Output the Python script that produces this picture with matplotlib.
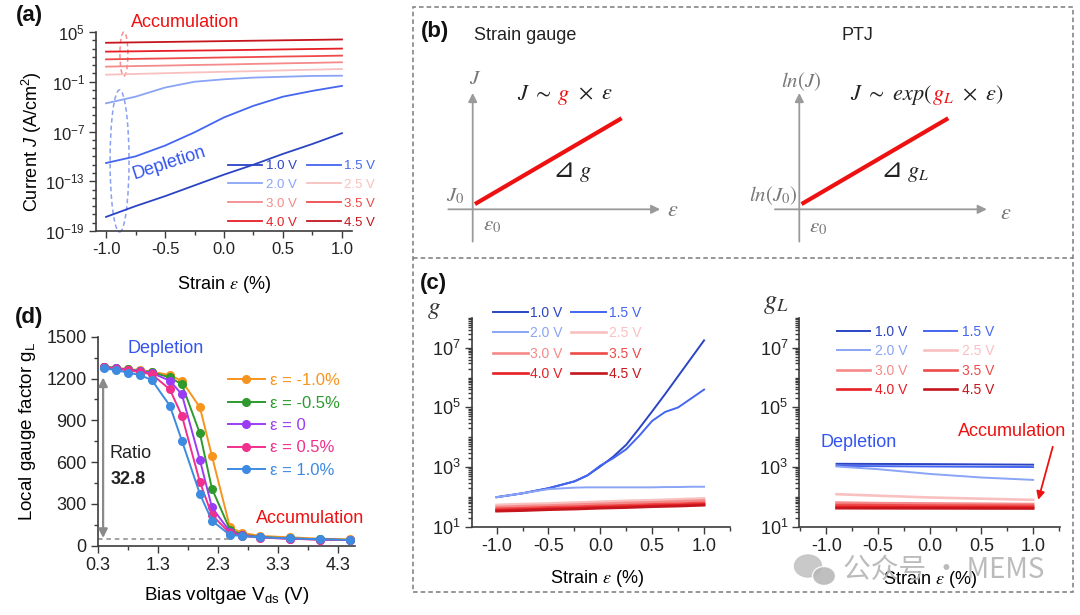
import numpy as np
import matplotlib
matplotlib.use('Agg')
import matplotlib.pyplot as plt
import matplotlib.ticker as ticker
import matplotlib.transforms as mtransforms
from matplotlib.patches import Rectangle, Ellipse
from matplotlib.lines import Line2D

plt.rcParams['font.family'] = ['Liberation Sans', 'DejaVu Sans']
plt.rcParams['mathtext.fontset'] = 'custom'
plt.rcParams['mathtext.rm'] = 'Liberation Sans'
plt.rcParams['mathtext.it'] = 'Liberation Sans:italic'
plt.rcParams['mathtext.bf'] = 'Liberation Sans:bold'
plt.rcParams['mathtext.default'] = 'it'

W, H = 1080, 615

# ---------------- data ----------------
volt_labels = ['1.0 V', '1.5 V', '2.0 V', '2.5 V', '3.0 V', '3.5 V', '4.0 V', '4.5 V']
volt_colors = ['#2b44c4', '#4466f0', '#8aa4f6', '#f9c0c0', '#f58a8a', '#ef4a4a', '#e61e25', '#c4161c']

strain = [-1.0, -0.75, -0.5, -0.25, 0.0, 0.25, 0.5, 0.75, 1.0]

# (a) log10 of current density J (A/cm2)
logJ = [
    [-17.3, -16.0, -14.8, -13.5, -12.2, -11.0, -9.7, -8.5, -7.2],
    [-10.8, -10.0, -8.7, -7.1, -5.3, -3.9, -2.8, -2.1, -1.5],
    [-3.6, -2.8, -1.7, -1.0, -0.7, -0.5, -0.4, -0.3, -0.27],
    [-0.15, -0.06, 0.03, 0.12, 0.2, 0.28, 0.37, 0.45, 0.54],
    [0.82, 0.89, 0.95, 1.02, 1.08, 1.15, 1.22, 1.28, 1.35],
    [1.7, 1.76, 1.81, 1.87, 1.93, 1.98, 2.04, 2.09, 2.15],
    [2.63, 2.67, 2.72, 2.76, 2.8, 2.85, 2.9, 2.95, 3.0],
    [3.7, 3.75, 3.8, 3.85, 3.9, 3.95, 4.0, 4.05, 4.1],
]

# (c) log10 of gauge factor g
strain_fine = [-1.0, -0.75, -0.5, -0.25, -0.125, 0.0, 0.125, 0.25, 0.375, 0.5, 0.625, 0.75, 0.875, 1.0]
log_g_blue = [
    [1.99, 2.12, 2.29, 2.52, 2.72, 3.02, 3.35, 3.75, 4.3, 4.87, 5.45, 6.05, 6.65, 7.25],
    [1.99, 2.12, 2.29, 2.52, 2.72, 3.05, 3.3, 3.6, 4.05, 4.55, 4.85, 5.0, 5.3, 5.6],
    [1.99, 2.12, 2.26, 2.31, 2.32, 2.32, 2.32, 2.32, 2.32, 2.32, 2.33, 2.33, 2.34, 2.34],
]
log_g_red = [
    [1.73, 1.76, 1.78, 1.81, 1.84, 1.87, 1.89, 1.92, 1.95],
    [1.66, 1.69, 1.71, 1.74, 1.77, 1.80, 1.82, 1.85, 1.88],
    [1.60, 1.62, 1.65, 1.67, 1.70, 1.72, 1.75, 1.77, 1.80],
    [1.55, 1.57, 1.60, 1.62, 1.65, 1.67, 1.70, 1.72, 1.75],
    [1.52, 1.54, 1.57, 1.59, 1.62, 1.64, 1.67, 1.69, 1.72],
]

# (c) log10 of local gauge factor gL
strain_gl = [-0.9, -0.5, 0.0, 0.5, 1.0]
log_gl = [
    [3.11, 3.105, 3.1, 3.09, 3.08],
    [3.04, 3.03, 3.02, 3.01, 3.0],
    [3.02, 2.93, 2.77, 2.65, 2.57],
    [2.09, 2.04, 1.98, 1.94, 1.9],
    [1.81, 1.79, 1.78, 1.77, 1.76],
    [1.73, 1.72, 1.71, 1.705, 1.7],
    [1.66, 1.655, 1.65, 1.645, 1.64],
    [1.62, 1.617, 1.615, 1.612, 1.61],
]

# (d) local gauge factor vs bias
vds = [0.4, 0.6, 0.8, 1.0, 1.2, 1.5, 1.7, 2.0, 2.2, 2.5, 2.7, 3.0, 3.5, 4.0, 4.5]
gl_curves = [
    [1285, 1278, 1266, 1261, 1249, 1225, 1182, 993, 644, 132, 93, 70, 60, 50, 46],
    [1285, 1275, 1265, 1255, 1245, 1208, 1158, 806, 410, 115, 80, 62, 52, 45, 40],
    [1282, 1272, 1262, 1252, 1240, 1184, 1086, 615, 275, 100, 75, 60, 50, 44, 40],
    [1280, 1270, 1260, 1245, 1230, 1122, 933, 457, 220, 90, 70, 58, 50, 44, 40],
    [1273, 1261, 1242, 1225, 1189, 1005, 754, 371, 180, 77, 70, 60, 53, 46, 41],
]
gl_labels = ['ε = -1.0%', 'ε = -0.5%', 'ε = 0', 'ε = 0.5%', 'ε = 1.0%']
gl_colors = ['#f7941d', '#2e9a2e', '#9b3cf5', '#f0308c', '#3d8be0']

# schematic (b): arbitrary units
eps_sketch = [0.015, 0.993]
resp_sketch = [0.035, 0.607]

BLUE_TXT = '#3355ee'
RED_TXT = '#ee1111'
AX_COL = '#3c3c3c'


fig = plt.figure(figsize=(W / 100, H / 100), dpi=100)
fig.patch.set_facecolor('white')


def fx(px):
    return px / W


def fy(py):
    return 1 - py / H


def pax(x0, y0, x1, y1):
    return fig.add_axes([x0 / W, 1 - y1 / H, (x1 - x0) / W, (y1 - y0) / H])


def style(ax, size=12):
    for s in ['top', 'right']:
        ax.spines[s].set_visible(False)
    for s in ['left', 'bottom']:
        ax.spines[s].set_color(AX_COL)
        ax.spines[s].set_linewidth(1.2)
    ax.tick_params(which='both', direction='out', color=AX_COL, width=1.0, labelcolor='#222222')
    ax.tick_params(which='major', length=5, labelsize=size, pad=3)
    ax.tick_params(which='minor', length=3)
    ax.patch.set_alpha(0)


def log_fmt(v, pos):
    return r'$\mathregular{10^{%d}}$' % int(round(np.log10(v)))


def reorder(handles):
    # legend fills column-wise; put 1.0,2.0,3.0,4.0 in first column
    return [handles[i] for i in [0, 2, 4, 6, 1, 3, 5, 7]]


# ---------------- (a) ----------------
ax_a = pax(96, 32, 352, 231)
style(ax_a, 12)
lines_a = []
for lj, lab, col in zip(logJ, volt_labels, volt_colors):
    ln, = ax_a.plot(strain, 10.0 ** np.array(lj), color=col, lw=1.3, label=lab)
    lines_a.append(ln)
ax_a.set_yscale('log')
ax_a.set_ylim(1e-19, 1e5)
ax_a.set_xlim(-1.085, 1.085)
ax_a.yaxis.set_major_locator(ticker.FixedLocator([1e-19, 1e-13, 1e-7, 1e-1, 1e5]))
ax_a.yaxis.set_minor_locator(ticker.FixedLocator(10.0 ** np.arange(-19, 6)))
ax_a.yaxis.set_major_formatter(ticker.FuncFormatter(log_fmt))
ax_a.yaxis.set_minor_formatter(ticker.NullFormatter())
ax_a.xaxis.set_major_locator(ticker.MultipleLocator(0.5))
ax_a.xaxis.set_minor_locator(ticker.MultipleLocator(0.25))
ax_a.xaxis.set_major_formatter(ticker.FormatStrFormatter('%.1f'))
ax_a.set_xlabel(r'Strain $\varepsilon$ (%)', fontsize=13, math_fontfamily='stix')
ax_a.set_ylabel(r'Current $J$ (A/cm$\mathregular{^{2}}$)', fontsize=13)
ax_a.xaxis.set_label_coords(0.5, -0.27)
ax_a.yaxis.set_label_coords(-0.25, 0.447)
ax_a.xaxis.label.set_va('center')
ax_a.yaxis.label.set_va('center')
ax_a.legend(handles=reorder(lines_a), ncol=2, frameon=False, fontsize=9.5, labelcolor='linecolor',
            loc='upper left', bbox_to_anchor=(fx(228), fy(160)), bbox_transform=fig.transFigure,
            borderpad=0, borderaxespad=0, handlelength=2.6, handletextpad=0.25,
            columnspacing=0.75, labelspacing=0.5)
ax_a.add_patch(Ellipse((0.109, 0.889), 0.031, 0.221, transform=ax_a.transAxes, fill=False,
                       ls=(0, (3, 2)), ec='#f59090', lw=1.1, clip_on=False))
ax_a.add_patch(Ellipse((0.092, 0.352), 0.074, 0.714, transform=ax_a.transAxes, fill=False,
                       ls=(0, (3, 2)), ec='#8aa0f0', lw=1.1, clip_on=False))
ax_a.text(-0.33, 10 ** 6.09, 'Accumulation', color=RED_TXT, fontsize=13, ha='center', va='center')
ax_a.text(-0.466, 10 ** -10.8, 'Depletion', color=BLUE_TXT, fontsize=13, ha='center', va='center',
          rotation=18)

# ---------------- (d) ----------------
ax_d = pax(97.7, 336.7, 355, 545.7)
style(ax_d, 13)
for gc, lab, col in zip(gl_curves, gl_labels, gl_colors):
    ax_d.plot(vds, gc, color=col, lw=1.4, marker='o', ms=5.5, mfc=col, mec=col, label=lab)
ax_d.set_xlim(0.3, 4.58)
ax_d.set_ylim(0, 1500)
ax_d.xaxis.set_major_locator(ticker.FixedLocator([0.3, 1.3, 2.3, 3.3, 4.3]))
ax_d.xaxis.set_minor_locator(ticker.FixedLocator([0.8, 1.8, 2.8, 3.8]))
ax_d.xaxis.set_major_formatter(ticker.FormatStrFormatter('%.1f'))
ax_d.yaxis.set_major_locator(ticker.MultipleLocator(300))
ax_d.yaxis.set_minor_locator(ticker.MultipleLocator(150))
ax_d.set_xlabel(r'Bias voltgae V$\mathregular{_{ds}}$ (V)', fontsize=13.5)
ax_d.set_ylabel(r'Local gauge factor g$\mathregular{_{L}}$', fontsize=13.5)
ax_d.xaxis.set_label_coords(0.5, -0.236)
ax_d.yaxis.set_label_coords(-0.271, 0.545)
ax_d.xaxis.label.set_va('center')
ax_d.yaxis.label.set_va('center')
ax_d.plot([0.3, 2.5], [48, 48], ls=(0, (3, 2.5)), color='#8a8a8a', lw=1.1)
ax_d.annotate('', xy=(0.39, 55), xytext=(0.39, 1208),
              arrowprops=dict(arrowstyle='<|-|>', color='#8a8a8a', lw=1.6, mutation_scale=13,
                              shrinkA=0, shrinkB=0))
ax_d.text(0.5, 663, 'Ratio', fontsize=13, color='#222222', va='center')
ax_d.text(0.52, 472, '32.8', fontsize=13, color='#222222', va='center', fontweight='bold')
ax_d.text(1.43, 1418, 'Depletion', fontsize=13, color=BLUE_TXT, ha='center', va='center')
ax_d.text(3.84, 197, 'Accumulation', fontsize=13, color=RED_TXT, ha='center', va='center')
ax_d.legend(frameon=False, fontsize=12, labelcolor='linecolor', numpoints=1,
            loc='upper left', bbox_to_anchor=(fx(228), fy(373)), bbox_transform=fig.transFigure,
            borderpad=0, borderaxespad=0, handlelength=2.2, handletextpad=0.3, labelspacing=0.45)

# ---------------- (c) left: g ----------------
ax_c1 = pax(471.7, 318, 730, 526.7)
style(ax_c1, 13)
lines_c1 = []
for lg, lab, col in zip(log_g_blue, volt_labels[:3], volt_colors[:3]):
    ln, = ax_c1.plot(strain_fine, 10.0 ** np.array(lg), color=col, lw=1.4, label=lab)
    lines_c1.append(ln)
for lg, lab, col in zip(log_g_red, volt_labels[3:], volt_colors[3:]):
    ln, = ax_c1.plot(strain, 10.0 ** np.array(lg), color=col, lw=1.9, label=lab)
    lines_c1.append(ln)

# ---------------- (c) right: gL ----------------
ax_c2 = pax(799.3, 318, 1060, 526.7)
style(ax_c2, 13)
lines_c2 = []
for i, (lg, lab, col) in enumerate(zip(log_gl, volt_labels, volt_colors)):
    ln, = ax_c2.plot(strain_gl, 10.0 ** np.array(lg), color=col, lw=1.4 if i < 3 else 1.9, label=lab)
    lines_c2.append(ln)

for ax, xl in [(ax_c1, (-1.24, 1.25)), (ax_c2, (-1.26, 1.26))]:
    ax.set_yscale('log')
    ax.set_ylim(1e1, 1e8)
    ax.set_xlim(*xl)
    ax.yaxis.set_major_locator(ticker.FixedLocator([1e1, 1e3, 1e5, 1e7]))
    ax.yaxis.set_minor_locator(ticker.LogLocator(base=10, subs=np.arange(1, 10), numticks=100))
    ax.yaxis.set_major_formatter(ticker.FuncFormatter(log_fmt))
    ax.yaxis.set_minor_formatter(ticker.NullFormatter())
    ax.xaxis.set_major_locator(ticker.MultipleLocator(0.5))
    ax.xaxis.set_minor_locator(ticker.MultipleLocator(0.25))
    ax.xaxis.set_major_formatter(ticker.FormatStrFormatter('%.1f'))
    ax.set_xlabel(r'Strain $\varepsilon$ (%)', fontsize=13, math_fontfamily='stix')
    ax.xaxis.label.set_va('center')

ax_c1.xaxis.set_label_coords(0.484, -0.246)
ax_c2.xaxis.set_label_coords(0.5, -0.255)
ax_c1.legend(handles=reorder(lines_c1), ncol=2, frameon=False, fontsize=10, labelcolor='linecolor',
             loc='upper left', bbox_to_anchor=(fx(492.7), fy(306)), bbox_transform=fig.transFigure,
             borderpad=0, borderaxespad=0, handlelength=2.55, handletextpad=0.15,
             columnspacing=0.6, labelspacing=0.45)
ax_c2.legend(handles=reorder(lines_c2), ncol=2, frameon=False, fontsize=10, labelcolor='linecolor',
             loc='upper left', bbox_to_anchor=(fx(836.7), fy(325)), bbox_transform=fig.transFigure,
             borderpad=0, borderaxespad=0, handlelength=2.4, handletextpad=0.35,
             columnspacing=1.2, labelspacing=0.38)
ax_c2.text(-0.69, 10 ** 3.83, 'Depletion', fontsize=13, color=BLUE_TXT, ha='center', va='center')
ax_c2.text(0.8, 10 ** 4.19, 'Accumulation', fontsize=13, color=RED_TXT, ha='center', va='center')
ax_c2.annotate('', xy=(1.05, 80), xytext=(1.19, 4800), annotation_clip=False,
               arrowprops=dict(arrowstyle='-|>', color=RED_TXT, lw=1.3, mutation_scale=12,
                               shrinkA=0, shrinkB=0))

fig.text(fx(434), fy(309), r'$g$', fontsize=18, color='#333333', ha='center', va='center',
         math_fontfamily='stix')
fig.text(fx(776), fy(304), r'$g_L$', fontsize=19, color='#333333', ha='center', va='center',
         math_fontfamily='stix')

# ---------------- (b) schematics ----------------
renderer = fig.canvas.get_renderer()


def chain(ax, x, y, parts):
    tr = ax.transData
    for s, col, size in parts:
        t = ax.text(x, y, s, color=col, fontsize=size, transform=tr, va='baseline',
                    math_fontfamily='stix', family=['DejaVu Sans'])
        w = t.get_window_extent(renderer=renderer).width
        tr = tr + mtransforms.Affine2D().translate(w, 0)


GRAY = '#777777'
DARK = '#222222'
for x0, kind in [(440, 'g'), (766.6, 'gL')]:
    sk = pax(x0, 60, x0 + 240, 250)
    sk.set_xlim(-0.218, 1.382)
    sk.set_ylim(-0.271, 0.995)
    sk.axis('off')
    arrow = dict(arrowstyle='-|>', color='#9a9a9a', lw=1.3, mutation_scale=13, shrinkA=0, shrinkB=0)
    sk.annotate('', xy=(0, 0.775), xytext=(0, -0.215), arrowprops=arrow)
    sk.annotate('', xy=(1.25, 0), xytext=(-0.163, 0), arrowprops=arrow)
    sk.plot(eps_sketch, resp_sketch, color=RED_TXT, lw=3, solid_capstyle='butt')
    if kind == 'g':
        sk.text(0.015, 0.875, r'$J$', fontsize=15, color=GRAY, ha='center', va='center',
                math_fontfamily='stix')
        sk.text(-0.118, 0.09, r'$J_0$', fontsize=15, color=GRAY, ha='center', va='center',
                math_fontfamily='stix')
        sk.text(0.129, -0.105, r'$\varepsilon_0$', fontsize=15, color=GRAY, ha='center',
                va='center', math_fontfamily='stix')
        sk.text(1.335, -0.005, r'$\varepsilon$', fontsize=16, color=GRAY, ha='center',
                va='center', math_fontfamily='stix')
        chain(sk, 0.295, 0.73, [(r'$J\ \sim$', DARK, 16), (r'$\ g$', RED_TXT, 16),
                                (r'$\ \times\ \varepsilon$', DARK, 16)])
        chain(sk, 0.53, 0.215, [('⊿', DARK, 19), (r'$\ g$', DARK, 16)])
    else:
        sk.text(0.011, 0.849, r'$ln(J)$', fontsize=15, color=GRAY, ha='center', va='center',
                math_fontfamily='stix')
        sk.text(-0.015, 0.09, r'$ln(J_0)$', fontsize=15, color=GRAY, ha='right', va='center',
                math_fontfamily='stix')
        sk.text(0.125, -0.118, r'$\varepsilon_0$', fontsize=15, color=GRAY, ha='center',
                va='center', math_fontfamily='stix')
        sk.text(1.378, -0.025, r'$\varepsilon$', fontsize=16, color=GRAY, ha='center',
                va='center', math_fontfamily='stix')
        chain(sk, 0.338, 0.73, [(r'$J\ \sim\ exp($', DARK, 16), (r'$g_L$', RED_TXT, 16),
                                (r'$\ \times\ \varepsilon)$', DARK, 16)])
        chain(sk, 0.54, 0.215, [('⊿', DARK, 19), (r'$\ g_L$', DARK, 16)])

fig.text(fx(525), fy(35), 'Strain gauge', fontsize=13, color=DARK, ha='center', va='center')
fig.text(fx(857), fy(35), 'PTJ', fontsize=13, color=DARK, ha='center', va='center')

# dashed frame around (b) and (c)
fig.add_artist(Rectangle((fx(413), fy(592)), fx(1073) - fx(413), fy(7) - fy(592),
                         transform=fig.transFigure, fill=False, ls=(0, (3, 2)), ec='#7a7a7a', lw=1.1))
fig.add_artist(Line2D([fx(413), fx(1073)], [fy(258), fy(258)], transform=fig.transFigure,
                      ls=(0, (3, 2)), color='#7a7a7a', lw=1.1))

# panel labels
for lab, px, py in [('(a)', 29, 15), ('(b)', 435, 32), ('(c)', 433, 283), ('(d)', 29, 318)]:
    fig.text(fx(px), fy(py), lab, fontsize=16, fontweight='bold', ha='center', va='center',
             color='#111111')

# watermark
fig.add_artist(Ellipse((fx(808), fy(566)), 27 / W, 22 / H, transform=fig.transFigure,
                       color='#c4c4c4', alpha=0.9))
fig.add_artist(Ellipse((fx(824), fy(576)), 23 / W, 19 / H, transform=fig.transFigure,
                       color='#b8b8b8', ec='white', lw=1, alpha=0.9))
fig.text(fx(843), fy(570), '公众号 · MEMS', fontsize=20, color='#b4b4b4', alpha=0.9,
         family=['Noto Sans CJK SC', 'DejaVu Sans'], va='center', ha='left')

fig.savefig('out.png', dpi=100)
